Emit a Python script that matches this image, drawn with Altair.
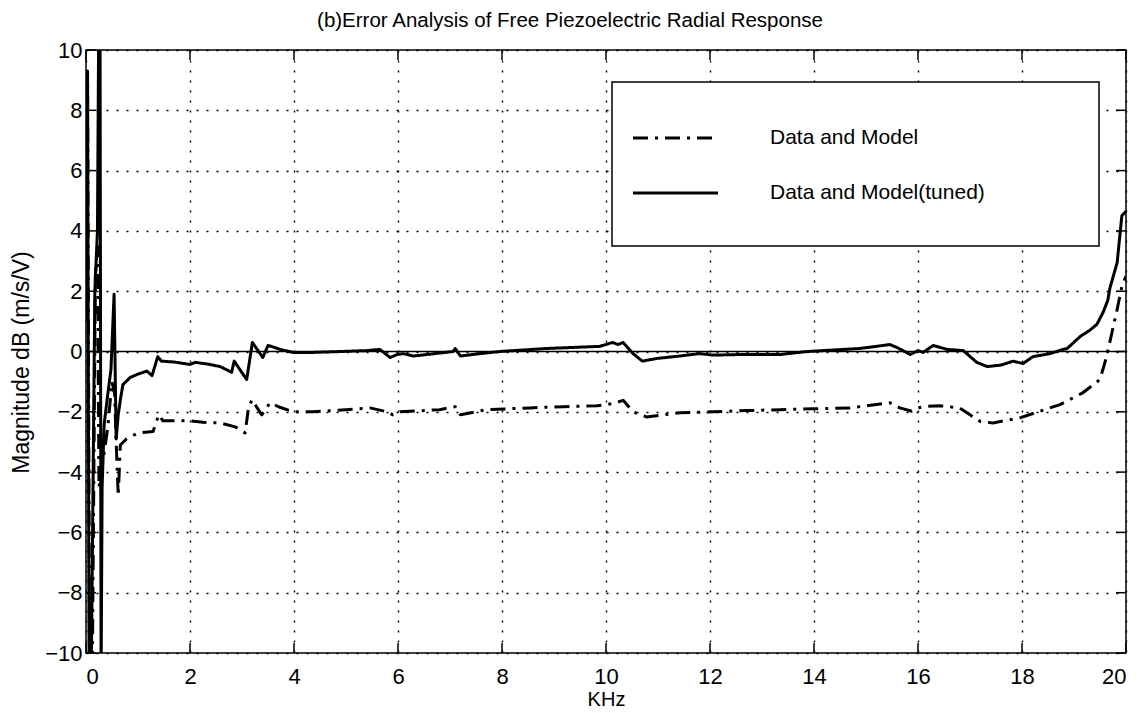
import altair as alt
import pandas as pd

# ---- data ----
x_model = [0.00, 0.03, 0.07, 0.12, 0.18, 0.22, 0.25, 0.29, 0.33, 0.42, 0.50, 0.55, 0.58, 0.62, 0.66,
           0.78, 1.00, 1.29, 1.40, 1.48, 2.00, 2.25, 2.58, 2.87, 3.06, 3.12, 3.19, 3.38, 3.54, 3.73,
           3.98, 4.37, 5.00, 5.46, 5.79, 5.90, 6.04, 6.80, 7.10, 7.20, 7.70, 8.54, 9.17, 9.83, 10.13,
           10.33, 10.52, 10.78, 11.42, 12.06, 12.70, 13.35, 13.98, 14.70, 15.46, 15.65, 15.88, 16.00,
           16.17, 16.42, 16.80, 17.00, 17.20, 17.44, 17.96, 18.35, 18.73, 19.17, 19.50, 19.63, 19.73,
           19.83, 19.92, 20.00]
y_model = [1.0, 9.0, -11, -11, 2.5, 3.5, -4.5, -4.0, -3.6, -2.5, -1.0, -1.4, -3.0, -4.8, -3.1,
           -2.9, -2.7, -2.65, -2.1, -2.3, -2.3, -2.35, -2.37, -2.5, -2.7, -1.93, -1.6, -2.1, -1.7, -1.85,
           -2.0, -2.0, -1.93, -1.87, -2.0, -2.1, -2.0, -1.93, -1.83, -2.1, -1.93, -1.87, -1.83, -1.8, -1.73,
           -1.62, -2.0, -2.17, -2.03, -2.0, -1.96, -1.93, -1.9, -1.87, -1.7, -1.87, -1.98, -1.87,
           -1.82, -1.8, -1.87, -2.1, -2.32, -2.37, -2.2, -1.98, -1.76, -1.37, -0.93, -0.15, 0.63,
           1.4, 2.15, 2.5]

x_tuned = [0.00, 0.03, 0.06, 0.10, 0.17, 0.22, 0.245, 0.27, 0.29, 0.31, 0.35, 0.42, 0.48, 0.54, 0.58,
           0.62, 0.67, 0.71, 0.85, 1.00, 1.17, 1.27, 1.38, 1.45, 1.70, 2.00, 2.10, 2.35, 2.58, 2.80,
           2.85, 3.09, 3.20, 3.30, 3.40, 3.50, 3.60, 3.73, 3.98, 4.37, 4.90, 5.40, 5.65, 5.85, 5.98,
           6.10, 6.30, 7.06, 7.10, 7.20, 7.58, 7.96, 8.86, 9.88, 10.13, 10.23, 10.33, 10.52, 10.70,
           10.98, 11.42, 11.80, 12.06, 12.58, 13.35, 13.87, 14.88, 15.46, 15.60, 15.85, 16.00, 16.10,
           16.29, 16.56, 16.87, 17.13, 17.33, 17.60, 17.83, 18.02, 18.21, 18.54, 18.79, 18.87, 19.12,
           19.30, 19.44, 19.56, 19.65, 19.69, 19.83, 19.92, 20.00]
y_tuned = [1.5, 9.3, -11, -11, 2.0, 4.0, 11, 11, -11, -4.5, -2.4, -1.4, -0.6, 1.9, -2.9,
           -2.1, -1.5, -1.1, -0.86, -0.75, -0.65, -0.8, -0.17, -0.32, -0.35, -0.43, -0.36, -0.42, -0.5, -0.69,
           -0.32, -0.93, 0.3, 0.05, -0.2, 0.2, 0.15, 0.07, -0.03, -0.03, 0.0, 0.03, 0.07, -0.2, -0.1,
           -0.07, -0.15, 0.0, 0.1, -0.15, -0.07, 0.0, 0.1, 0.17, 0.3, 0.23, 0.3, -0.07, -0.32,
           -0.23, -0.15, -0.07, -0.12, -0.1, -0.1, 0.0, 0.1, 0.23, 0.13, -0.1, 0.03, -0.03,
           0.2, 0.07, 0.03, -0.36, -0.5, -0.45, -0.32, -0.4, -0.17, -0.07, 0.07, 0.1, 0.5,
           0.7, 0.9, 1.3, 1.7, 2.1, 2.95, 4.5, 4.65]

x_ticks = [0, 2, 4, 6, 8, 10, 12, 14, 16, 18, 20]
y_ticks = [-10, -8, -6, -4, -2, 0, 2, 4, 6, 8, 10]
series_names = ["Data and Model", "Data and Model(tuned)"]
title_text = "(b)Error Analysis of Free Piezoelectric Radial Response"
x_title = "KHz"
y_title = "Magnitude dB (m/s/V)"

# ---- layout / style ----
W, H = 1040, 603
FONT = "Liberation Sans"
DASHDOT = [15, 7, 3, 7]
TICK = 10

df = pd.concat([
    pd.DataFrame({"f": x_model, "mag": y_model, "series": series_names[0],
                  "ord": list(range(len(x_model)))}),
    pd.DataFrame({"f": x_tuned, "mag": y_tuned, "series": series_names[1],
                  "ord": list(range(len(x_tuned)))}),
], ignore_index=True)

xs = alt.Scale(domain=[0, 20], nice=False, zero=False)
ys = alt.Scale(domain=[-10, 10], nice=False, zero=False)

x_axis = alt.Axis(values=x_ticks, title=x_title, grid=True, format="d", labelPadding=13,
                  titleFontSize=20, titleBaseline="alphabetic", titleY=52)
y_axis = alt.Axis(values=y_ticks, title=y_title, grid=True, format="d", labelPadding=4,
                  titleFontSize=23, titleAngle=-90, titleBaseline="alphabetic",
                  titleAlign="center", titleX=-58, titleY=312)

lines = alt.Chart(df).mark_line(clip=True, color="black", strokeWidth=3, strokeCap="butt",
                                strokeJoin="round").encode(
    x=alt.X("f:Q", scale=xs, axis=x_axis),
    y=alt.Y("mag:Q", scale=ys, axis=y_axis),
    strokeDash=alt.StrokeDash("series:N",
                              scale=alt.Scale(domain=series_names, range=[DASHDOT, [1, 0]]),
                              legend=None),
    order="ord:Q",
    detail="series:N",
)

zero = alt.Chart(pd.DataFrame({"mag": [0]})).mark_rule(color="black", strokeWidth=1.5).encode(
    y=alt.Y("mag:Q", scale=ys)
)

xt = pd.DataFrame({"f": x_ticks})
yt = pd.DataFrame({"mag": y_ticks})
tick_b = alt.Chart(xt).mark_rule(color="black", strokeWidth=1.5).encode(
    x=alt.X("f:Q", scale=xs), y=alt.value(H), y2=alt.value(H - TICK))
tick_t = alt.Chart(xt).mark_rule(color="black", strokeWidth=1.5).encode(
    x=alt.X("f:Q", scale=xs), y=alt.value(0), y2=alt.value(TICK))
tick_l = alt.Chart(yt).mark_rule(color="black", strokeWidth=1.5).encode(
    y=alt.Y("mag:Q", scale=ys), x=alt.value(0), x2=alt.value(TICK))
tick_r = alt.Chart(yt).mark_rule(color="black", strokeWidth=1.5).encode(
    y=alt.Y("mag:Q", scale=ys), x=alt.value(W), x2=alt.value(W - TICK))

one = pd.DataFrame({"a": [0]})
leg_box = alt.Chart(one).mark_rect(fill="white", stroke="black", strokeWidth=1.5).encode(
    x=alt.value(526), x2=alt.value(1013), y=alt.value(32), y2=alt.value(196))
leg_l1 = alt.Chart(one).mark_rule(color="black", strokeWidth=3, strokeDash=DASHDOT).encode(
    x=alt.value(547), x2=alt.value(632), y=alt.value(88))
leg_l2 = alt.Chart(one).mark_rule(color="black", strokeWidth=3).encode(
    x=alt.value(547), x2=alt.value(632), y=alt.value(143))
leg_t1 = alt.Chart(one).mark_text(align="left", baseline="middle", font=FONT, fontSize=21,
                                  color="black").encode(
    x=alt.value(684), y=alt.value(88), text=alt.value(series_names[0]))
leg_t2 = alt.Chart(one).mark_text(align="left", baseline="middle", font=FONT, fontSize=21,
                                  color="black").encode(
    x=alt.value(684), y=alt.value(143), text=alt.value(series_names[1]))

chart = alt.layer(
    lines, zero, tick_b, tick_t, tick_l, tick_r, leg_box, leg_l1, leg_l2, leg_t1, leg_t2
).properties(
    width=W, height=H,
    autosize=alt.AutoSizeParams(type="none"),
    padding={"left": 86, "top": 50, "right": 20, "bottom": 60},
    title=alt.TitleParams(title_text, font=FONT, fontSize=20.5, fontWeight="normal",
                          anchor="middle", dx=-36, offset=8, color="black"),
).configure_view(
    stroke="black", strokeWidth=1.5
).configure_axis(
    domain=False, ticks=False,
    gridColor="black", gridDash=[2, 8], gridWidth=1.4, gridOpacity=1,
    labelFont=FONT, labelFontSize=22, labelColor="black",
    titleFont=FONT, titleFontWeight="normal", titleColor="black",
)

chart.save("out.html", embed_options={"renderer": "svg", "actions": False})
